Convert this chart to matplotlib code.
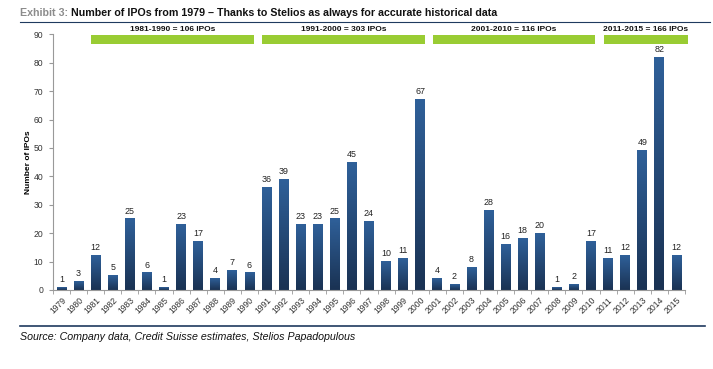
import matplotlib
matplotlib.use("Agg")
import matplotlib.pyplot as plt
import numpy as np
from matplotlib.colors import LinearSegmentedColormap

years = [str(y) for y in range(1979, 2016)]
ipos = [1, 3, 12, 5, 25, 6, 1, 23, 17, 4, 7, 6,
        36, 39, 23, 23, 25, 45, 24, 10, 11, 67,
        4, 2, 8, 28, 16, 18, 20, 1, 2, 17,
        11, 12, 49, 82, 12]
period_labels = ["1981-1990 = 106 IPOs", "1991-2000 = 303 IPOs",
                 "2001-2010 = 116 IPOs", "2011-2015 = 166 IPOs"]
period_start = ["1981", "1991", "2001", "2011"]
period_end = ["1990", "2000", "2010", "2015"]

plt.rcParams['font.family'] = ['Liberation Sans', 'DejaVu Sans']

fig = plt.figure(figsize=(7.13, 3.69), dpi=100)
ax = fig.add_axes([0.0743, 0.2141, 0.8864, 0.6929])

cmap = LinearSegmentedColormap.from_list("g", ["#1a3253", "#2f6099"])
x = np.arange(len(years))
w = 0.57
grad = np.linspace(0, 1, 100).reshape(-1, 1)
for xi, v in zip(x, ipos):
    ax.imshow(grad, extent=[xi - w / 2, xi + w / 2, 0, v], origin='lower',
              aspect='auto', cmap=cmap, zorder=2)
    ax.text(xi, v + 1.2, str(v), ha='center', va='bottom', fontsize=6.4,
            color='#222222')

ax.set_xlim(-0.5, len(years) - 0.5)
ax.set_ylim(0, 90)
ax.set_yticks(range(0, 91, 10))
ax.set_yticklabels([str(t) for t in range(0, 91, 10)], fontsize=6.2, color='#333333')
ax.set_xticks(x)
ax.set_xticklabels(years, rotation=45, ha='right', rotation_mode='anchor',
                   fontsize=6.2, color='#333333')
ax.set_xticks(np.arange(-0.5, len(years), 1), minor=True)
ax.tick_params(axis='x', which='major', length=0, pad=4)
ax.tick_params(axis='x', which='minor', length=3, color='#999999')
ax.tick_params(axis='y', length=3, color='#999999', pad=4)
for s in ['top', 'right']:
    ax.spines[s].set_visible(False)
for s in ['left', 'bottom']:
    ax.spines[s].set_color('#999999')
    ax.spines[s].set_linewidth(0.8)
ax.set_ylabel("Number of IPOs", fontsize=6, fontweight='bold')
ax.yaxis.set_label_coords(-0.033, 0.5)

# period bars
for lab, s, e in zip(period_labels, period_start, period_end):
    i0 = years.index(s)
    i1 = years.index(e)
    x0 = i0 - 0.27
    x1 = i1 + (0.65 if e == years[-1] else 0.26)
    ax.fill_between([x0, x1], 86.6, 89.8, color='#99cc33', lw=0, clip_on=False, zorder=3)
    ax.text((x0 + x1) / 2, 90.6, lab, ha='center', va='bottom', fontsize=6,
            fontweight='bold', color='#111111', clip_on=False)

# title
ty = 1 - 13.5 / 369
t1 = fig.text(20 / 713, ty, "Exhibit 3:", fontsize=7.7, fontweight='bold',
              color='#8c8c8c', va='center', ha='left')
fig.canvas.draw()
bb = t1.get_window_extent()
fig.text(bb.x1 / 713 + 0.004, ty,
         "Number of IPOs from 1979 \u2013 Thanks to Stelios as always for accurate historical data",
         fontsize=7.7, fontweight='bold', color='#111111', va='center', ha='left')
fig.add_artist(plt.Line2D([20 / 713, 710 / 713], [1 - 21.5 / 369, 1 - 21.5 / 369],
                          color='#1f3a5f', lw=0.8))
fig.add_artist(plt.Line2D([20 / 713, 705 / 713], [1 - 326 / 369, 1 - 326 / 369],
                          color='#1f3a5f', lw=1.2))
fig.text(20 / 713, 1 - 337 / 369,
         "Source: Company data, Credit Suisse estimates, Stelios Papadopulous",
         fontsize=7.7, style='italic', color='#111111', va='center', ha='left')

fig.savefig("out.png", dpi=100)
